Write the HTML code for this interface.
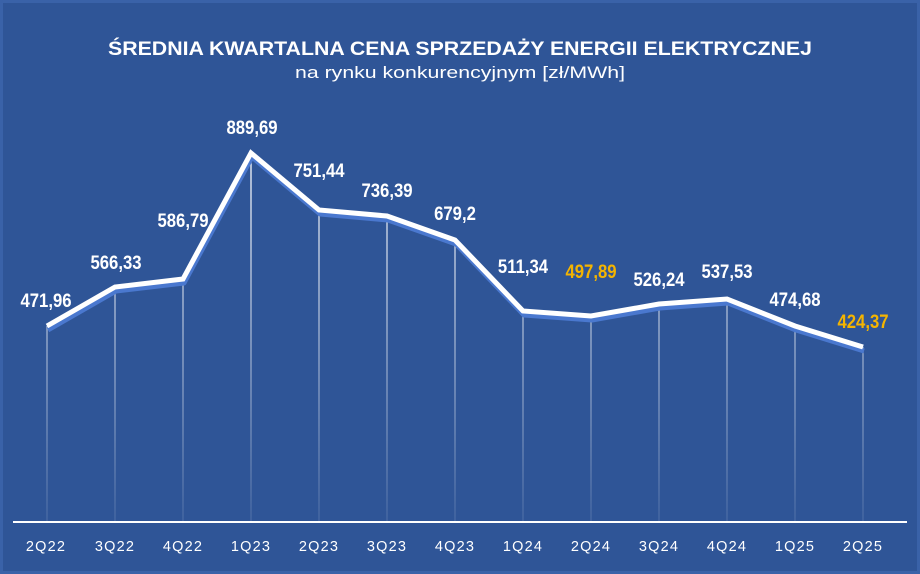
<!DOCTYPE html>
<html><head><meta charset="utf-8"><style>
html,body{margin:0;padding:0;background:#2f5597;}
svg{display:block}
</style></head><body>
<svg width="920" height="574" xmlns="http://www.w3.org/2000/svg" font-family="Liberation Sans, Arial, sans-serif">
<defs>
<linearGradient id="g" gradientUnits="userSpaceOnUse" x1="0" y1="150" x2="0" y2="521">
<stop offset="0" stop-color="#ffffff" stop-opacity="1"/>
<stop offset="1" stop-color="#ffffff" stop-opacity="0.12"/>
</linearGradient>
</defs>
<rect x="0" y="0" width="920" height="574" fill="#3a62a8"/>
<rect x="3" y="3" width="914" height="568" fill="#2f5597"/>
<text x="460" y="55" text-anchor="middle" fill="#fff" font-weight="bold" font-size="19" textLength="704" lengthAdjust="spacingAndGlyphs">ŚREDNIA KWARTALNA CENA SPRZEDAŻY ENERGII ELEKTRYCZNEJ</text>
<text x="460" y="78" text-anchor="middle" fill="#fff" font-size="17" textLength="330" lengthAdjust="spacingAndGlyphs">na rynku konkurencyjnym [zł/MWh]</text>
<g stroke="url(#g)" stroke-width="1.3">
<line x1="47" y1="326" x2="47" y2="521"/>
<line x1="115" y1="287" x2="115" y2="521"/>
<line x1="183" y1="279" x2="183" y2="521"/>
<line x1="251" y1="153" x2="251" y2="521"/>
<line x1="319" y1="210" x2="319" y2="521"/>
<line x1="387" y1="216" x2="387" y2="521"/>
<line x1="455" y1="240" x2="455" y2="521"/>
<line x1="523" y1="311" x2="523" y2="521"/>
<line x1="591" y1="316" x2="591" y2="521"/>
<line x1="659" y1="304" x2="659" y2="521"/>
<line x1="727" y1="299" x2="727" y2="521"/>
<line x1="795" y1="326" x2="795" y2="521"/>
<line x1="863" y1="347" x2="863" y2="521"/>
</g>
<line x1="13" y1="522" x2="907" y2="522" stroke="#fff" stroke-width="2"/>
<polyline fill="none" stroke="#4a78cf" stroke-width="5" stroke-linejoin="round" points="48,330 116,291 184,283 252,157 320,214 388,220 456,244 524,315 592,320 660,308 728,303 796,330 864,351"/>
<polyline fill="none" stroke="#fff" stroke-width="5" stroke-linejoin="miter" points="47,326 115,287 183,279 251,153 319,210 387,216 455,240 523,311 591,316 659,304 727,299 795,326 863,347"/>
<g fill="#fff" font-weight="bold" font-size="19" text-anchor="middle">
<text transform="translate(46,307) scale(0.88,1)">471,96</text>
<text transform="translate(116,269) scale(0.88,1)">566,33</text>
<text transform="translate(183,227) scale(0.88,1)">586,79</text>
<text transform="translate(252,134) scale(0.88,1)">889,69</text>
<text transform="translate(319,177) scale(0.88,1)">751,44</text>
<text transform="translate(387,197) scale(0.88,1)">736,39</text>
<text transform="translate(455,220) scale(0.88,1)">679,2</text>
<text transform="translate(523,273) scale(0.88,1)">511,34</text>
<text transform="translate(591,278) scale(0.88,1)" fill="#f4b400">497,89</text>
<text transform="translate(659,286) scale(0.88,1)">526,24</text>
<text transform="translate(727,278) scale(0.88,1)">537,53</text>
<text transform="translate(795,306) scale(0.88,1)">474,68</text>
<text transform="translate(863,328) scale(0.88,1)" fill="#f4b400">424,37</text>
</g>
<g fill="#fff" font-size="14.5" text-anchor="middle" letter-spacing="1.2">
<text x="46" y="551">2Q22</text>
<text x="115" y="551">3Q22</text>
<text x="183" y="551">4Q22</text>
<text x="251" y="551">1Q23</text>
<text x="319" y="551">2Q23</text>
<text x="387" y="551">3Q23</text>
<text x="455" y="551">4Q23</text>
<text x="523" y="551">1Q24</text>
<text x="591" y="551">2Q24</text>
<text x="659" y="551">3Q24</text>
<text x="727" y="551">4Q24</text>
<text x="795" y="551">1Q25</text>
<text x="863" y="551">2Q25</text>
</g>
</svg>
</body></html>
